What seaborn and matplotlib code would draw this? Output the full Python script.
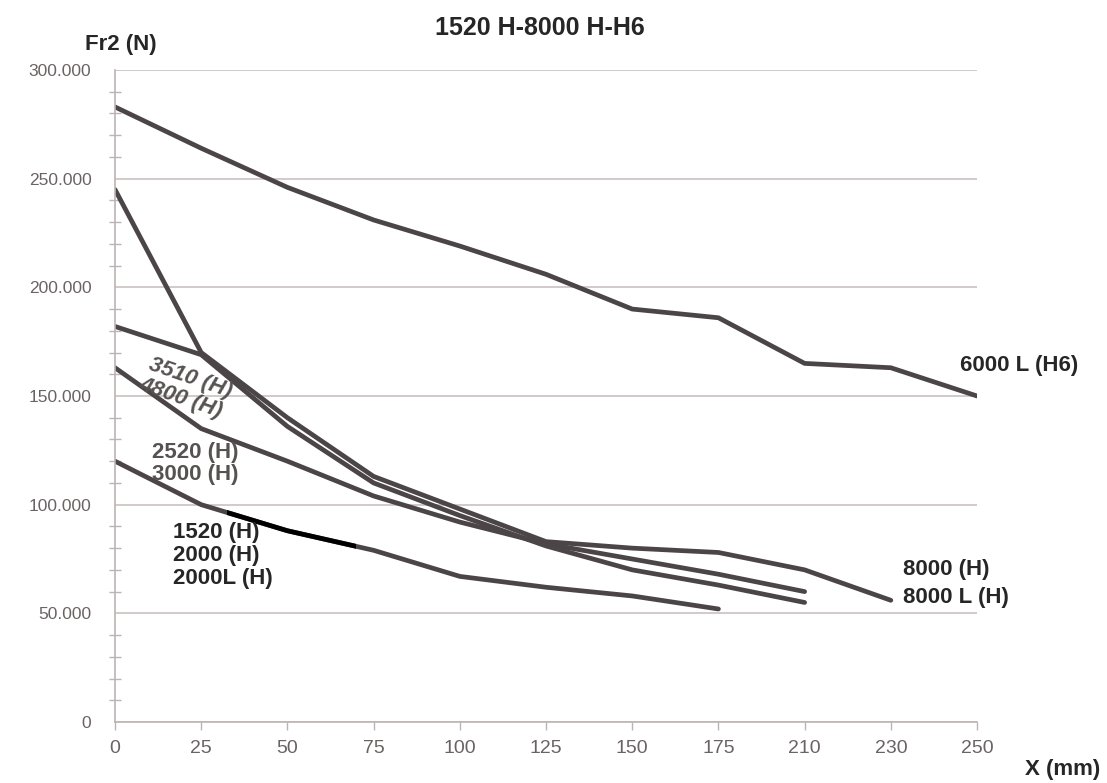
import numpy as np
import pandas as pd
import matplotlib
matplotlib.use("Agg")
import matplotlib.pyplot as plt
import seaborn as sns
from matplotlib.patches import Rectangle
from matplotlib.ticker import MultipleLocator

# categorical x positions (equally spaced on the chart)
x_labels = ["0", "25", "50", "75", "100", "125", "150", "175", "210", "230", "250"]
y_ticks = [0, 50, 100, 150, 200, 250, 300]

# force curves
f_6000L = [283, 264, 246, 231, 219, 206, 190, 186, 165, 163, 150]
f_8000 = [245, 170, 140, 113, 98, 83, 80, 78, 70, 56]
f_3510 = [182, 169, 136, 110, 95, 81, 70, 63, 55]
f_2520 = [163, 135, 120, 104, 92, 82, 75, 68, 60]
f_1520 = [120, 100, 88, 79, 67, 62, 58, 52]

series = {
    "6000 L (H6)": f_6000L,
    "8000 (H)": f_8000,
    "3510 (H)": f_3510,
    "2520 (H)": f_2520,
    "1520 (H)": f_1520,
}

rows = []
for name, vals in series.items():
    for i, v in enumerate(vals):
        rows.append({"series": name, "pos": i, "force": v})
df = pd.DataFrame(rows)

sns.set_style("white")
plt.rcParams['font.family'] = ['Liberation Sans', 'DejaVu Sans']

line_col = "#4b4547"
grid_col = "#cbc1c1"
tick_col = "#6b6363"
lab_gray = "#575252"

fig = plt.figure(figsize=(11.07, 7.83), dpi=100)
ax = fig.add_axes([0.1039, 0.0779, 0.7787, 0.8327])

sns.lineplot(data=df, x="pos", y="force", units="series", estimator=None,
             color=line_col, lw=3.4, ax=ax, legend=False)

# darker stretch on the lowest curve
seg = df.query("series == '1520 (H)' and pos <= 3")
sns.lineplot(data=seg, x="pos", y="force", estimator=None, color="black",
             lw=3.4, ax=ax, legend=False)
blk = ax.lines[-1]
blk.set_clip_path(Rectangle((1.3, 0), 1.5, 300, transform=ax.transData))

ax.set_xlim(0, len(x_labels) - 1)
ax.set_ylim(0, 300)
ax.set_xticks(range(len(x_labels)))
ax.set_xticklabels(x_labels)
ax.set_yticks(y_ticks)
ax.set_yticklabels(["0" if v == 0 else f"{v:.3f}" for v in y_ticks])
ax.yaxis.set_minor_locator(MultipleLocator(10))

ax.yaxis.grid(True, color=grid_col, lw=1.2)
ax.xaxis.grid(False)
for s in ["top", "right"]:
    ax.spines[s].set_visible(False)
for s in ["left", "bottom"]:
    ax.spines[s].set_color("#bdb3b3")
    ax.spines[s].set_linewidth(1.2)

ax.tick_params(axis="y", which="major", direction="out", length=8, width=1,
               color="#bdb3b3", labelsize=12.5, labelcolor=tick_col, pad=9)
ax.tick_params(axis="y", which="minor", direction="inout", length=8, width=1,
               color="#bdb3b3", left=True)
ax.tick_params(axis="x", which="major", direction="out", length=6, width=1,
               color="#bdb3b3", labelsize=14, labelcolor=tick_col, pad=7, bottom=True)
ax.set_xlabel("")
ax.set_ylabel("")

fig.text(0.488, 0.964, "1520 H-8000 H-H6", ha="center", va="center",
         fontsize=18, fontweight="bold")
fig.text(0.077, 0.943, "Fr2 (N)", ha="left", va="center", fontsize=16, fontweight="bold")
fig.text(0.994, 0.017, "X (mm)", ha="right", va="center", fontsize=16, fontweight="bold")

# curve labels
lab = dict(fontsize=16, fontweight="bold")
ax.text(9.8, 164, "6000 L (H6)", ha="left", va="center", clip_on=False, **lab)
ax.text(9.14, 70, "8000 (H)", ha="left", va="center", clip_on=False, **lab)
ax.text(9.14, 57.5, "8000 L (H)", ha="left", va="center", clip_on=False, **lab)
ax.text(0.87, 158, "3510 (H)", ha="center", va="center", rotation=-19,
        rotation_mode="anchor", color=lab_gray, fontstyle="italic", **lab)
ax.text(0.76, 149, "4800 (H)", ha="center", va="center", rotation=-19,
        rotation_mode="anchor", color=lab_gray, fontstyle="italic", **lab)
ax.text(0.43, 124, "2520 (H)", ha="left", va="center", color=lab_gray, **lab)
ax.text(0.43, 114, "3000 (H)", ha="left", va="center", color=lab_gray, **lab)
ax.text(0.67, 87, "1520 (H)", ha="left", va="center", **lab)
ax.text(0.67, 76.5, "2000 (H)", ha="left", va="center", **lab)
ax.text(0.67, 66, "2000L (H)", ha="left", va="center", **lab)

fig.savefig("out.png", dpi=100)
